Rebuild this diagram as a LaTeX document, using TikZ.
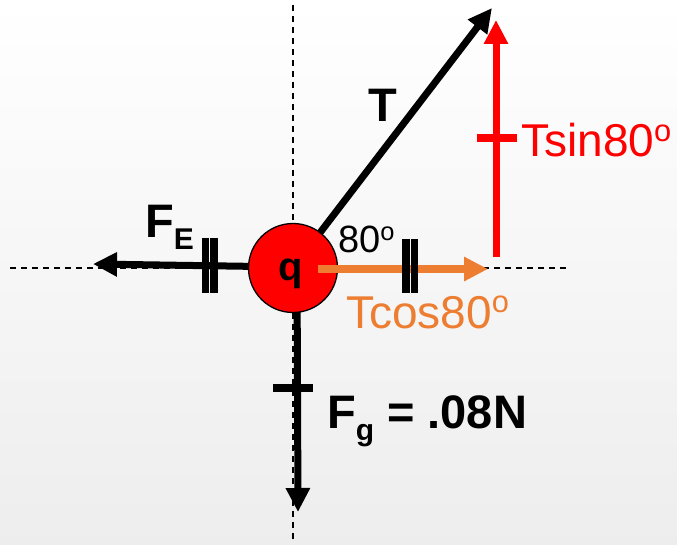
\documentclass[tikz,border=0pt]{standalone}
\usepackage{fontspec}
\setmainfont{Liberation Sans}
\usetikzlibrary{arrows.meta}
\definecolor{tor}{HTML}{ED7D31}
\definecolor{tred}{HTML}{FF0000}
\newcommand{\degsup}{\raisebox{0.33em}{\scalebox{0.67}{o}}}
\begin{document}
\begin{tikzpicture}[x=1pt,y=-1pt,
  axis/.style={black, line width=1.4pt, dash pattern=on 6pt off 5pt},
  force/.style={line width=7pt, -{Triangle[length=24pt,width=23pt]}},
  tickmark/.style={line width=7.5pt},
  lbl/.style={inner sep=0pt, anchor=base west},
  big/.style={font=\fontsize{46}{50}\selectfont},
  bigb/.style={font=\fontsize{47}{50}\selectfont\bfseries},
  mid/.style={font=\fontsize{38}{40}\selectfont}]
\useasboundingbox (0,0) rectangle (677,545);
\shade[top color=white, bottom color=black!7] (0,0) rectangle (677,545);
% reference lines
\coordinate (c) at (293,268);
\coordinate (hl) at (10,268);
\coordinate (hr) at (570,268);
\coordinate (vt) at (293,5);
\coordinate (vb) at (293,540);
\draw[axis] (hl) -- (hr);
\draw[axis] (vt) -- (vb);
% forces from the charge
\coordinate (feStart) at (293,267);
\coordinate (feTip) at (93,264);
\coordinate (fgStart) at (297,268);
\coordinate (fgTip) at (298,512);
\coordinate (tTip) at (492,8);
\draw[force] (feStart) -- (feTip);
\draw[force] (fgStart) -- (fgTip);
\draw[force] (c) -- (tTip);
% charge
\node[circle, fill=tred, draw=black, line width=1.3pt, minimum size=89pt, inner sep=0pt] (q) at (c) {};
% components
\coordinate (cosStart) at (318,269);
\coordinate (cosTip) at (488,269);
\draw[force, tor, line width=8pt] (cosStart) -- (cosTip);
\coordinate (sinStart) at (496,257);
\coordinate (sinTip) at (496,20);
\draw[force, tred] (sinStart) -- (sinTip);
% tick marks
\draw[tickmark] (205.5,238) -- (205.5,293);
\draw[tickmark] (214,238) -- (214,293);
\draw[tickmark] (406,239) -- (406,293);
\draw[tickmark] (414.5,239) -- (414.5,293);
\draw[tickmark, tred, line width=8pt] (477,138) -- (517,138);
\draw[tickmark, line width=8pt] (273,387.5) -- (313,387.5);
% labels
\node[inner sep=0pt, font=\fontsize{40}{44}\selectfont\bfseries] (qlbl) at (291,274) {q};
\node[lbl, bigb] (fe) at (145,238) {F\raisebox{-12pt}{\fontsize{30}{30}\selectfont E}};
\node[lbl, bigb] (tl) at (368,122) {T};
\node[lbl, big, text=tred] (sinl) at (521,157) {Tsin80\degsup};
\node[lbl, mid] (ang) at (338,253) {80\degsup};
\node[lbl, big, text=tor] (cosl) at (346,328) {Tcos80\degsup};
\node[lbl, bigb] (fgl) at (327,428) {F\raisebox{-12pt}{\fontsize{30}{30}\selectfont g} = .08N};
\end{tikzpicture}
\end{document}
